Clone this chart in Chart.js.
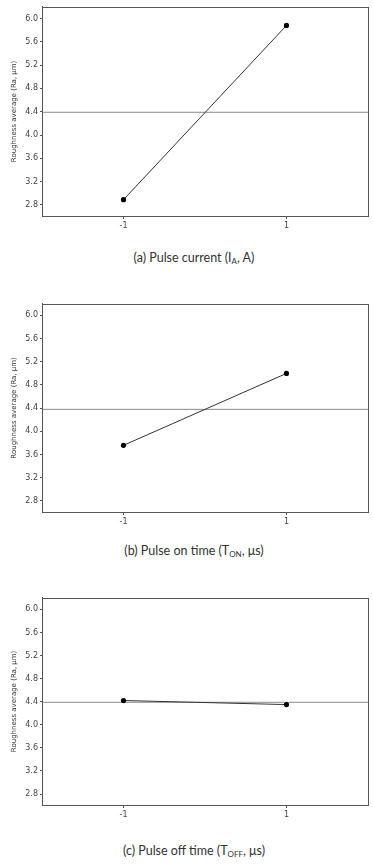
<!DOCTYPE html>
<html>
<head>
<meta charset="utf-8">
<script src="https://cdn.jsdelivr.net/npm/chart.js@4"></script>
<style>
  html, body { margin: 0; padding: 0; background: #fff; }
  body { width: 373px; height: 864px; position: relative; overflow: hidden; }
  .panel { position: absolute; left: 0; width: 373px; }
  .caption {
    position: absolute;
    left: 194px;
    transform: translateX(-50%);
    white-space: nowrap;
    font-family: Lato, "Open Sans", sans-serif;
    font-size: 12.5px;
    color: #333;
    line-height: 16px;
  }
  .caption sub { font-size: 8px; vertical-align: -2px; line-height: 0; }
</style>
</head>
<body>

<div class="panel" style="top:0px"><canvas id="chartA" width="373" height="240"></canvas></div>
<div class="caption" style="top:250px">(a) Pulse current (I<sub>A</sub>, A)</div>

<div class="panel" style="top:297px"><canvas id="chartB" width="373" height="239"></canvas></div>
<div class="caption" style="top:543px">(b) Pulse on time (T<sub>ON</sub>, μs)</div>

<div class="panel" style="top:591px"><canvas id="chartC" width="373" height="238"></canvas></div>
<div class="caption" style="top:843px">(c) Pulse off time (T<sub>OFF</sub>, μs)</div>

<script>
// factor levels (coded)
const levels = [-1, 1];

// mean Ra at each level
const raPulseCurrent = [2.89, 5.88];
const raPulseOn = [3.76, 5.00];
const raPulseOff = [4.42, 4.35];

// overall mean line per panel
const meanRa = [4.39, 4.38, 4.39];

const yTicks = [2.8, 3.2, 3.6, 4.0, 4.4, 4.8, 5.2, 5.6, 6.0];
const xTicks = [-1, 1];

const X_MIN = -2;
const X_MAX = 2;
const Y_MIN = 2.61;
const Y_MAX = 6.2;

const AXIS_COLOR = "#555";
const TICK_FONT = { family: "'DejaVu Sans', sans-serif", size: 8 };

// box round the whole plot area
const framePlugin = {
  id: "frame",
  afterDraw(chart) {
    const a = chart.chartArea;
    const ctx = chart.ctx;
    ctx.save();
    ctx.strokeStyle = AXIS_COLOR;
    ctx.lineWidth = 1;
    ctx.strokeRect(Math.round(a.left) + 0.5, Math.round(a.top) + 0.5,
      Math.round(a.right - a.left), Math.round(a.bottom - a.top));
    ctx.restore();
  }
};

function makeChart(id, values, mean) {
  const points = levels.map((x, i) => ({ x: x, y: values[i] }));

  return new Chart(document.getElementById(id), {
    type: "line",
    data: {
      datasets: [
        {
          data: [{ x: X_MIN, y: mean }, { x: X_MAX, y: mean }],
          borderColor: "#8a8a8a",
          borderWidth: 1,
          pointRadius: 0,
          order: 2
        },
        {
          data: points,
          borderColor: "#333",
          borderWidth: 1,
          pointRadius: 2.6,
          pointBackgroundColor: "#000",
          pointBorderColor: "#000",
          pointBorderWidth: 0,
          order: 1
        }
      ]
    },
    options: {
      responsive: false,
      animation: false,
      layout: { padding: { top: 5, right: 5, left: 0, bottom: 0 } },
      plugins: {
        legend: { display: false },
        tooltip: { enabled: false }
      },
      scales: {
        x: {
          type: "linear",
          min: X_MIN,
          max: X_MAX,
          afterBuildTicks(scale) {
            scale.ticks = xTicks.map((v) => ({ value: v }));
          },
          afterFit(scale) {
            scale.height = 24;
          },
          ticks: {
            font: TICK_FONT,
            color: "#444",
            padding: 2,
            maxRotation: 0,
            callback: (v) => String(v)
          },
          grid: {
            display: true,
            drawOnChartArea: false,
            drawTicks: true,
            tickLength: 3,
            color: AXIS_COLOR
          },
          border: { display: true, color: AXIS_COLOR }
        },
        y: {
          type: "linear",
          min: Y_MIN,
          max: Y_MAX,
          afterBuildTicks(scale) {
            scale.ticks = yTicks.map((v) => ({ value: v }));
          },
          afterFit(scale) {
            scale.width = 42;
          },
          ticks: {
            font: TICK_FONT,
            color: "#444",
            padding: 2,
            callback: (v) => Number(v).toFixed(1)
          },
          grid: {
            display: true,
            drawOnChartArea: false,
            drawTicks: true,
            tickLength: 2,
            color: AXIS_COLOR
          },
          border: { display: true, color: AXIS_COLOR },
          title: {
            display: true,
            text: "Roughness average (Ra, μm)",
            font: { family: "'DejaVu Sans', sans-serif", size: 7 },
            color: "#333",
            padding: { top: 10, bottom: 0 }
          }
        }
      }
    },
    plugins: [framePlugin]
  });
}

makeChart("chartA", raPulseCurrent, meanRa[0]);
makeChart("chartB", raPulseOn, meanRa[1]);
makeChart("chartC", raPulseOff, meanRa[2]);
</script>
</body>
</html>
